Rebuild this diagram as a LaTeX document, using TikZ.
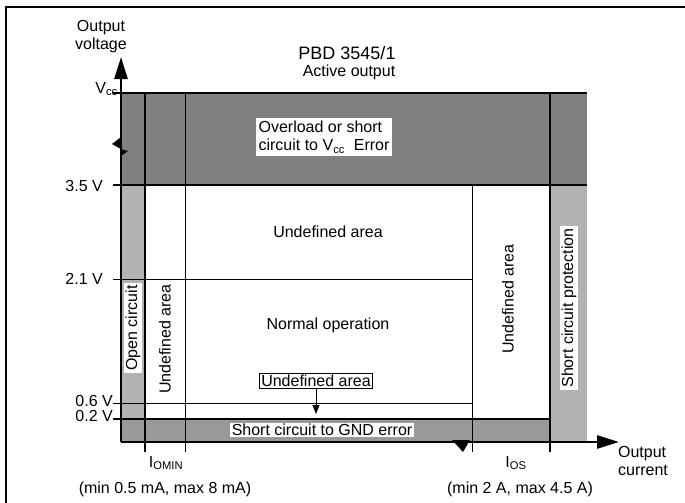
\documentclass[tikz,border=0pt]{standalone}
\usepackage{fontspec}
\setmainfont{Liberation Sans}
\usetikzlibrary{arrows.meta}
\begin{document}
\begin{tikzpicture}[x=1pt,y=-1pt,
  txt/.style={font=\fontsize{16}{18}\selectfont, inner sep=1pt},
  wbox/.style={txt, fill=white, inner sep=2pt},
  thick line/.style={line width=2.4pt},
  thin line/.style={line width=1pt},
  axisarrow/.style={line width=2.6pt, -{Triangle[length=22pt,width=13pt]}},
  darkfill/.style={fill=black!50},
  midfill/.style={fill=black!40},
  lightfill/.style={fill=black!30}]
\useasboundingbox (0,0) rectangle (685,503);
% frame (top and left only visible)
\draw[line width=1.2pt] (6,503) -- (6,7) -- (685,7);
% shaded regions
\fill[darkfill] (121,93) rectangle (587,185);
\fill[lightfill] (121,185) rectangle (145,442);
\fill[midfill] (121,419) rectangle (550,442);
\fill[lightfill] (550,185) rectangle (587,442);
% grid lines
\draw[thick line] (113,93) -- (587,93);
\draw[thick line] (113,185) -- (587,185);
\draw[thin line] (113,279) -- (472,279);
\draw[thin line] (113,403) -- (472,403);
\draw[thick line] (113,419) -- (550,419);
\draw[thick line] (145,93) -- (145,452);
\draw[thin line] (185,93) -- (185,452);
\draw[thin line] (472,185) -- (472,452);
\draw[thick line] (550,93) -- (550,452);
% axes
\coordinate (O) at (121,442);
\coordinate (ytip) at (121,57);
\coordinate (xtip) at (619,442);
\draw[axisarrow] (O) -- (ytip);
\draw[axisarrow] (O) -- (xtip);
% axis break marks
\fill (121,137) -- (112,144) -- (121,149) -- (128,151) -- (121,156) -- cycle;
\fill (452,440) -- (463,452) -- (470,440) -- cycle;
% axis titles
\node[txt, align=center] (ylab) at (101,37) {Output\\voltage};
\node[txt, align=left] (xlab) at (643,461) {Output\\current};
\node[txt, font=\fontsize{18}{20}\selectfont] (title) at (347,53) {PBD 3545/1};
\node[txt] (sub) at (349,72) {Active output};
% tick labels
\node[txt, anchor=east] (vcc) at (119,89) {V\textsubscript{cc}};
\node[txt, anchor=east] (v35) at (104,186) {3.5 V};
\node[txt, anchor=east] (v21) at (104,279) {2.1 V};
\node[txt, anchor=east] (v06) at (114,401) {0.6 V};
\node[txt, anchor=east] (v02) at (114,416) {0.2 V};
% region labels
\node[wbox, align=left, inner sep=3pt] (over) at (324,137) {Overload or short\\circuit to V\textsubscript{cc}\ \ Error};
\node[txt] (und1) at (328,232) {Undefined area};
\node[txt] (norm) at (328,325) {Normal operation};
\node[wbox, rotate=90] (open) at (133,328) {Open circuit};
\node[txt, rotate=90] (und2) at (165,339) {Undefined area};
\node[txt, rotate=90] (und3) at (508,299) {Undefined area};
\node[wbox, rotate=90] (scp) at (569,308) {Short circuit protection};
\node[txt, draw=black, fill=white, line width=0.8pt, inner sep=2pt] (und4) at (316,381) {Undefined area};
\coordinate (und4tip) at (316,414);
\draw[line width=1pt, -{Triangle[length=9pt,width=7pt]}] (und4.south) -- (und4tip);
\node[wbox, inner sep=1.5pt] (gnd) at (322,430) {Short circuit to GND error};
% current labels
\node[txt] (iomin) at (166,463) {I\textsubscript{OMIN}};
\node[txt] (iominr) at (165,489) {(min 0.5 mA, max 8 mA)};
\node[txt] (ios) at (516,463) {I\textsubscript{OS}};
\node[txt] (iosr) at (520,489) {(min 2 A, max 4.5 A)};
\end{tikzpicture}
\end{document}
